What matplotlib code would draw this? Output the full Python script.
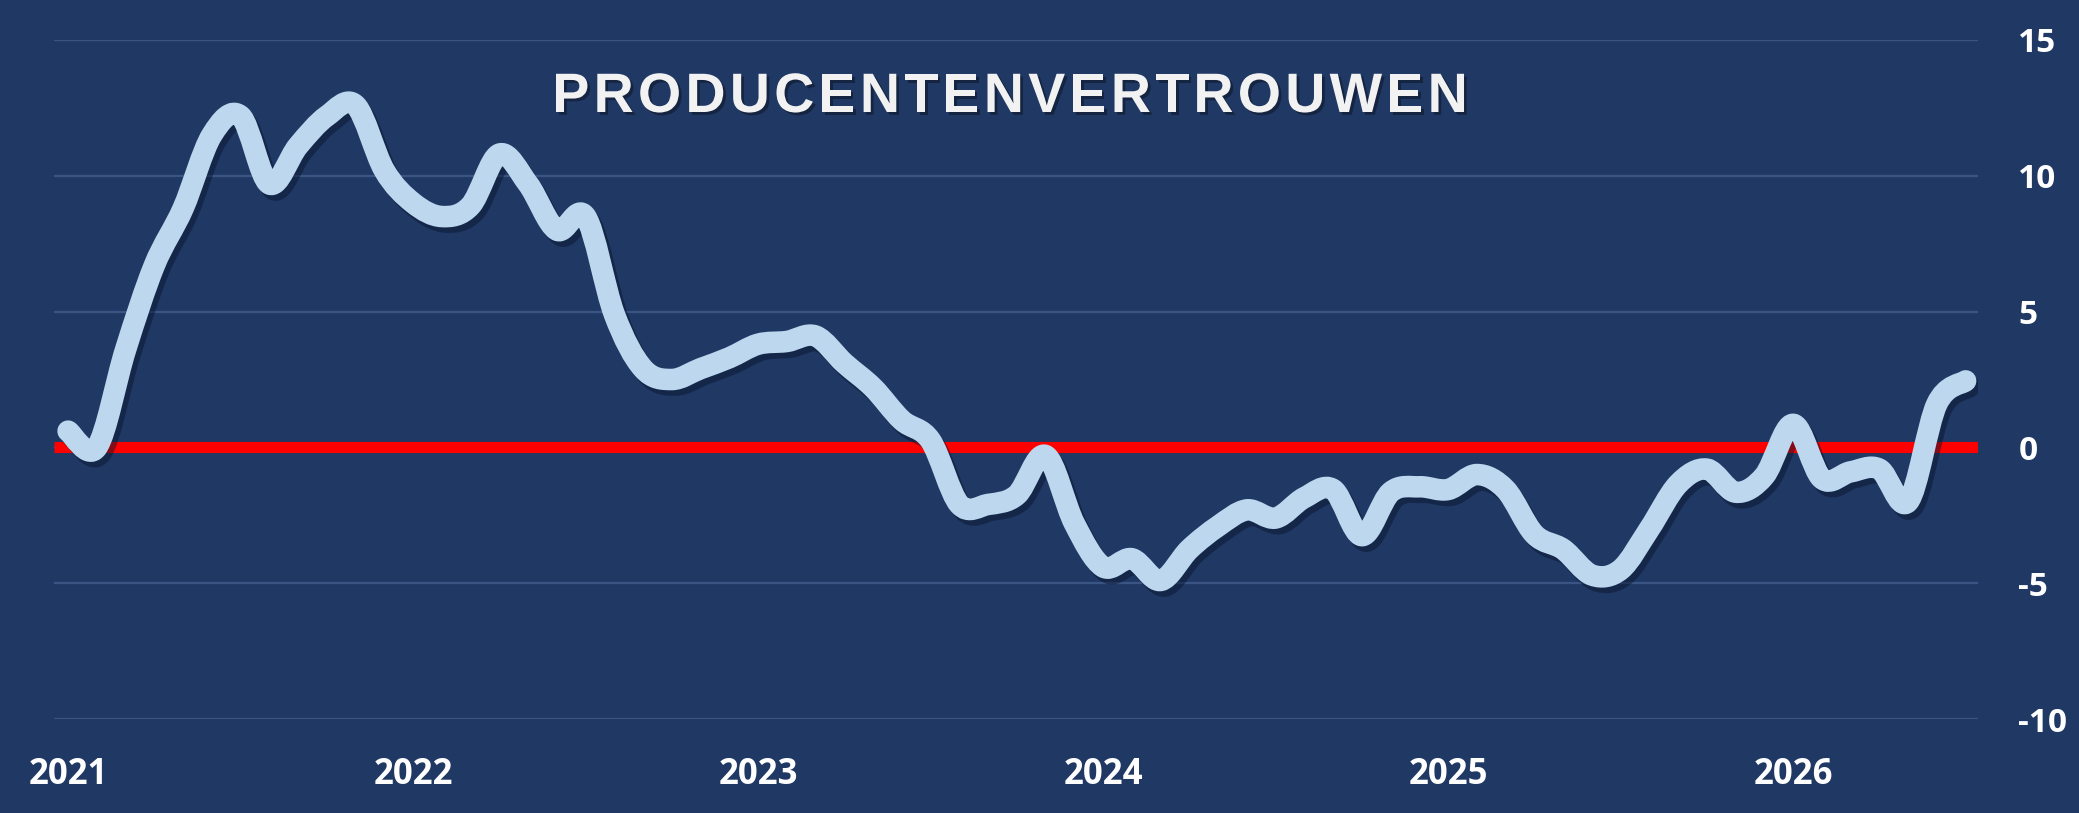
import numpy as np
import matplotlib
matplotlib.use("Agg")
import matplotlib.pyplot as plt
import matplotlib.patheffects as pe
from matplotlib import font_manager
from matplotlib.ft2font import FT2Font
from matplotlib.path import Path
from matplotlib.patches import PathPatch

# monthly producer confidence, Jan 2021 .. Jul 2026
values = [0.6, 0.0, 3.6, 6.7, 8.8, 11.5, 12.2, 9.7, 11.1, 12.2, 12.6, 10.2,
          9.0, 8.5, 8.9, 10.8, 9.7, 8.0, 8.5, 4.9, 2.9, 2.5, 2.9, 3.3,
          3.8, 3.9, 4.1, 3.1, 2.2, 1.0, 0.25, -2.1, -2.1, -1.75, -0.3, -2.8,
          -4.4, -4.1, -4.9, -3.75, -2.9, -2.3, -2.6, -1.85, -1.55, -3.25, -1.65, -1.45,
          -1.55, -1.0, -1.55, -3.2, -3.75, -4.7, -4.5, -3.0, -1.35, -0.8, -1.65, -1.05,
          0.85, -1.15, -0.9, -0.8, -2.0, 1.6, 2.45]
years = ["2021", "2022", "2023", "2024", "2025", "2026"]
title = "PRODUCENTENVERTROUWEN"

bg = "#203864"
W, H = 2079, 813

fig = plt.figure(figsize=(W / 100, H / 100), dpi=100, facecolor=bg)
ax = fig.add_axes([54 / W, 94 / H, (1978 - 54) / W, (719 - 40) / H], facecolor=bg)

x = np.arange(len(values))
y = np.array(values, dtype=float)
ax.axhline(0, color="#ff0000", lw=8, solid_capstyle="butt", zorder=2)

# smoothed line like Excel: cubic Bezier segments through the data points
pts = np.column_stack([x, y])
ext = np.vstack([pts[0], pts, pts[-1]])
verts = [tuple(pts[0])]
codes = [Path.MOVETO]
for i in range(len(pts) - 1):
    p0, p1, p2, p3 = ext[i], ext[i + 1], ext[i + 2], ext[i + 3]
    c1 = p1 + (p2 - p0) / 6
    c2 = p2 - (p3 - p1) / 6
    verts += [tuple(c1), tuple(c2), tuple(p2)]
    codes += [Path.CURVE4] * 3
line = PathPatch(Path(verts, codes), fill=False, edgecolor="#bdd7ee", lw=15.5,
                 joinstyle="round", capstyle="round", zorder=3,
                 path_effects=[pe.SimpleLineShadow(offset=(3, -4), shadow_color="#0a1730", alpha=0.5),
                               pe.Normal()])
ax.add_patch(line)

ax.set_xlim(-0.49, 66.43)
ax.set_ylim(-10, 15)
ax.set_yticks([-10, -5, 0, 5, 10, 15])
ax.set_yticklabels(["-10", "-5", "0", "5", "10", "15"])
ax.set_xticks(np.arange(len(years)) * 12)
ax.set_xticklabels(years)
ax.yaxis.tick_right()
ax.grid(axis="y", color="#3a5583", lw=1.6, zorder=1)
ax.set_axisbelow(True)
for s in ax.spines.values():
    s.set_visible(False)
ax.tick_params(axis="both", length=0, colors="white")
ax.tick_params(axis="x", pad=27)
ax.tick_params(axis="y", pad=29)
for lab in ax.get_xticklabels():
    lab.set_fontfamily("Open Sans")
    lab.set_fontweight("bold")
    lab.set_fontsize(25)
for lab in ax.get_yticklabels():
    lab.set_fontfamily("Open Sans")
    lab.set_fontweight("bold")
    lab.set_fontsize(24)
    lab.set_horizontalalignment("left")

# title with extra letter spacing, laid out char by char
fsize = 40
fpath = font_manager.findfont(font_manager.FontProperties(family="Liberation Sans", weight="bold"))
ft = FT2Font(fpath)
ft.set_size(fsize, 100)
track = 4.3
adv = []
for c in title:
    g = ft.load_char(ord(c))
    adv.append(g.linearHoriAdvance / 65536)
total = sum(adv) + track * (len(title) - 1)
x0 = 1010 - total / 2
ty = H - 112
cx = x0
for c, a in zip(title, adv):
    fig.text(cx / W, ty / H, c, fontsize=fsize, fontweight="bold",
             family="Liberation Sans", color="#f2f2f2", ha="left", va="baseline",
             path_effects=[pe.withSimplePatchShadow(offset=(2, -2), shadow_rgbFace="black", alpha=0.35)])
    cx += a + track

fig.savefig("out.png", dpi=100, facecolor=bg)
